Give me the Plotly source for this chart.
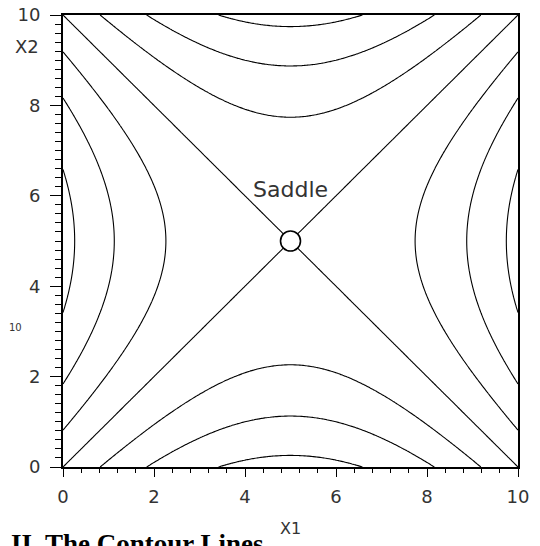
import numpy as np
import plotly.graph_objects as go

# Grid for the surface z = (x1-5)^2 - (x2-5)^2 (saddle at (5,5))
x1_values = np.linspace(0, 10, 201)
x2_values = np.linspace(0, 10, 201)
saddle_center = [5.0, 5.0]
contour_levels = [-22.5, -15.0, -7.5, 0.0, 7.5, 15.0, 22.5]
tick_values = [0, 2, 4, 6, 8, 10]
tick_labels = ["0", "2", "4", "6", "8", "10"]

X1, X2 = np.meshgrid(x1_values, x2_values)
Z = (X1 - saddle_center[0]) ** 2 - (X2 - saddle_center[1]) ** 2

OFF = 8  # page body margin in the browser
W, H = 540 - OFF, 546 - OFF
L, R, T, B = 63 - OFF, 22, 15 - OFF, 79
PW, PH = W - L - R, H - T - B


def px_x(p):
    return (p - OFF - L) / PW


def px_y(p):
    return (H - B - (p - OFF)) / PH


fig = go.Figure()
fig.add_trace(go.Contour(
    x=x1_values, y=x2_values, z=Z,
    contours=dict(coloring="lines", start=contour_levels[0], end=contour_levels[-1],
                  size=contour_levels[1] - contour_levels[0], showlabels=False),
    colorscale=[[0, "black"], [1, "black"]],
    line=dict(width=1.1, color="black"),
    showscale=False, hoverinfo="skip",
))
fig.add_trace(go.Scatter(
    x=[saddle_center[0]], y=[saddle_center[1]], mode="markers",
    marker=dict(size=20, color="white", line=dict(color="black", width=1.6)),
    showlegend=False, hoverinfo="skip",
))

tick_font = dict(family="DejaVu Sans", size=18, color="#333")
fig.update_layout(
    width=W, height=H,
    margin=dict(l=L, r=R, t=T, b=B, autoexpand=False),
    paper_bgcolor="white", plot_bgcolor="white",
    showlegend=False,
    xaxis=dict(range=[0, 10], tickvals=tick_values, ticktext=tick_labels,
               ticks="outside", ticklen=8, tickwidth=1.3, tickcolor="black",
               minor=dict(dtick=0.4, ticks="outside", ticklen=4, tickwidth=1, tickcolor="black"),
               showline=True, linecolor="black", linewidth=2, mirror=True,
               showgrid=False, zeroline=False, tickfont=tick_font, automargin=False,
               ticklabelstandoff=4, ticklabeloverflow="allow"),
    yaxis=dict(range=[0, 10], tickvals=tick_values, ticktext=tick_labels,
               ticks="outside", ticklen=11, tickwidth=1.3, tickcolor="black",
               minor=dict(dtick=0.2, ticks="outside", ticklen=6, tickwidth=1, tickcolor="black"),
               showline=True, linecolor="black", linewidth=2, mirror=True,
               showgrid=False, zeroline=False, tickfont=tick_font, automargin=False,
               ticklabelstandoff=6, ticklabeloverflow="allow"),
    annotations=[
        dict(text="Saddle", x=saddle_center[0], y=saddle_center[1], xref="x", yref="y",
             yshift=52, showarrow=False, font=dict(family="DejaVu Sans", size=22, color="#333")),
        dict(text="X2", x=px_x(27), y=px_y(46), xref="paper", yref="paper", showarrow=False,
             font=tick_font, xanchor="center", yanchor="middle"),
        dict(text="X1", x=saddle_center[0], y=px_y(528), xref="x", yref="paper", showarrow=False,
             font=dict(family="DejaVu Sans", size=16, color="#333"), xanchor="center", yanchor="middle"),
        dict(text="10", x=px_x(8), y=px_y(327), xref="paper", yref="paper", showarrow=False,
             font=dict(family="DejaVu Sans", size=10, color="#333"), xanchor="left", yanchor="middle",
             borderpad=0),
        dict(text="<b>II. The Contour Lines</b>", x=px_x(9), y=px_y(527), xref="paper", yref="paper",
             showarrow=False, font=dict(family="Liberation Serif", size=27, color="black"),
             xanchor="left", yanchor="top"),
    ],
)

fig.write_html("out.html")
